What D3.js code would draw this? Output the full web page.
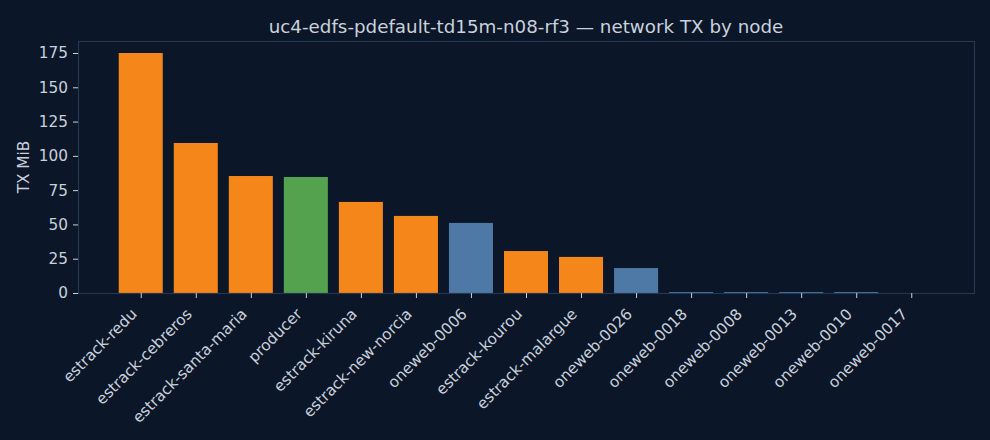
<!DOCTYPE html>
<html>
<head>
<meta charset="utf-8">
<script src="https://cdn.jsdelivr.net/npm/d3@7/dist/d3.min.js"></script>
<style>
  html, body { margin: 0; padding: 0; background: #0b1628; }
  svg { display: block; }
  text { font-family: "DejaVu Sans", sans-serif; fill: #c9d1dd; }
</style>
</head>
<body>
<svg id="chart" width="990" height="440"></svg>
<script>
// node names, left to right
const nodes = ["estrack-redu", "estrack-cebreros", "estrack-santa-maria", "producer",
  "estrack-kiruna", "estrack-new-norcia", "oneweb-0006", "estrack-kourou",
  "estrack-malargue", "oneweb-0026", "oneweb-0018", "oneweb-0008",
  "oneweb-0013", "oneweb-0010", "oneweb-0017"]
// TX MiB per node
const txMiB = [175.0, 109.4, 85.3, 84.6, 66.4, 56.2, 51.1, 30.6, 26.3, 18.2, 0.7, 0.7, 0.7, 0.7, 0]
const yTicks = [0, 25, 50, 75, 100, 125, 150, 175]
const kindColor = { estrack: "#f5871a", producer: "#55a24e", oneweb: "#4e79a7" }

const svg = d3.select("#chart")
const mLeft = 78, mRight = 974, mTop = 41, mBottom = 293
const tickFont = "15.3px"

// same padding as a bar plot with 5% margins
const x = d3.scaleLinear().domain([-1.14, nodes.length - 1 + 1.14]).range([mLeft, mRight])
const y = d3.scaleLinear().domain([0, d3.max(txMiB) * 1.05]).range([mBottom, mTop])
const barW = x(0.8) - x(0)

function kind(n) {
  return n.split("-")[0]
}

svg.append("g")
  .selectAll("rect")
  .data(nodes)
  .join("rect")
  .attr("x", (d, i) => x(i) - barW / 2)
  .attr("width", barW)
  .attr("y", (d, i) => y(txMiB[i]))
  .attr("height", (d, i) => y(0) - y(txMiB[i]))
  .attr("fill", d => kindColor[kind(d)])

// frame
svg.append("rect")
  .attr("x", mLeft + 0.5).attr("y", mTop + 0.5)
  .attr("width", mRight - mLeft).attr("height", mBottom - mTop)
  .attr("fill", "none")
  .attr("stroke", "#263650")
  .attr("stroke-width", 1.2)

// y axis
const yAxis = svg.append("g")
  .attr("transform", `translate(${mLeft},0)`)
  .call(d3.axisLeft(y).tickValues(yTicks).tickSize(5).tickPadding(5))
yAxis.select(".domain").remove()
yAxis.selectAll("line").attr("stroke", "#c9d1dd")
yAxis.selectAll("text").attr("fill", "#c9d1dd")
  .style("font-size", tickFont).style("font-family", "DejaVu Sans")

// x axis
const xAxis = svg.append("g")
  .attr("transform", `translate(0,${mBottom})`)
  .call(d3.axisBottom(x).tickValues(d3.range(nodes.length)).tickFormat(i => nodes[i]).tickSize(5))
xAxis.select(".domain").remove()
xAxis.selectAll("line").attr("stroke", "#c9d1dd")
xAxis.selectAll("text")
  .attr("fill", "#c9d1dd")
  .style("font-size", tickFont).style("font-family", "DejaVu Sans")
  .attr("text-anchor", "end")
  .attr("dy", null)
  .attr("y", 0)
  .attr("transform", "translate(-3.5,22) rotate(-45)")

svg.append("text")
  .attr("transform", `translate(29,${(mTop + mBottom) / 2}) rotate(-90)`)
  .attr("text-anchor", "middle")
  .style("font-size", tickFont)
  .text("TX MiB")

svg.append("text")
  .attr("x", (mLeft + mRight) / 2)
  .attr("y", 33)
  .attr("text-anchor", "middle")
  .style("font-size", "18.3px")
  .text("uc4-edfs-pdefault-td15m-n08-rf3 — network TX by node")
</script>
</body>
</html>
